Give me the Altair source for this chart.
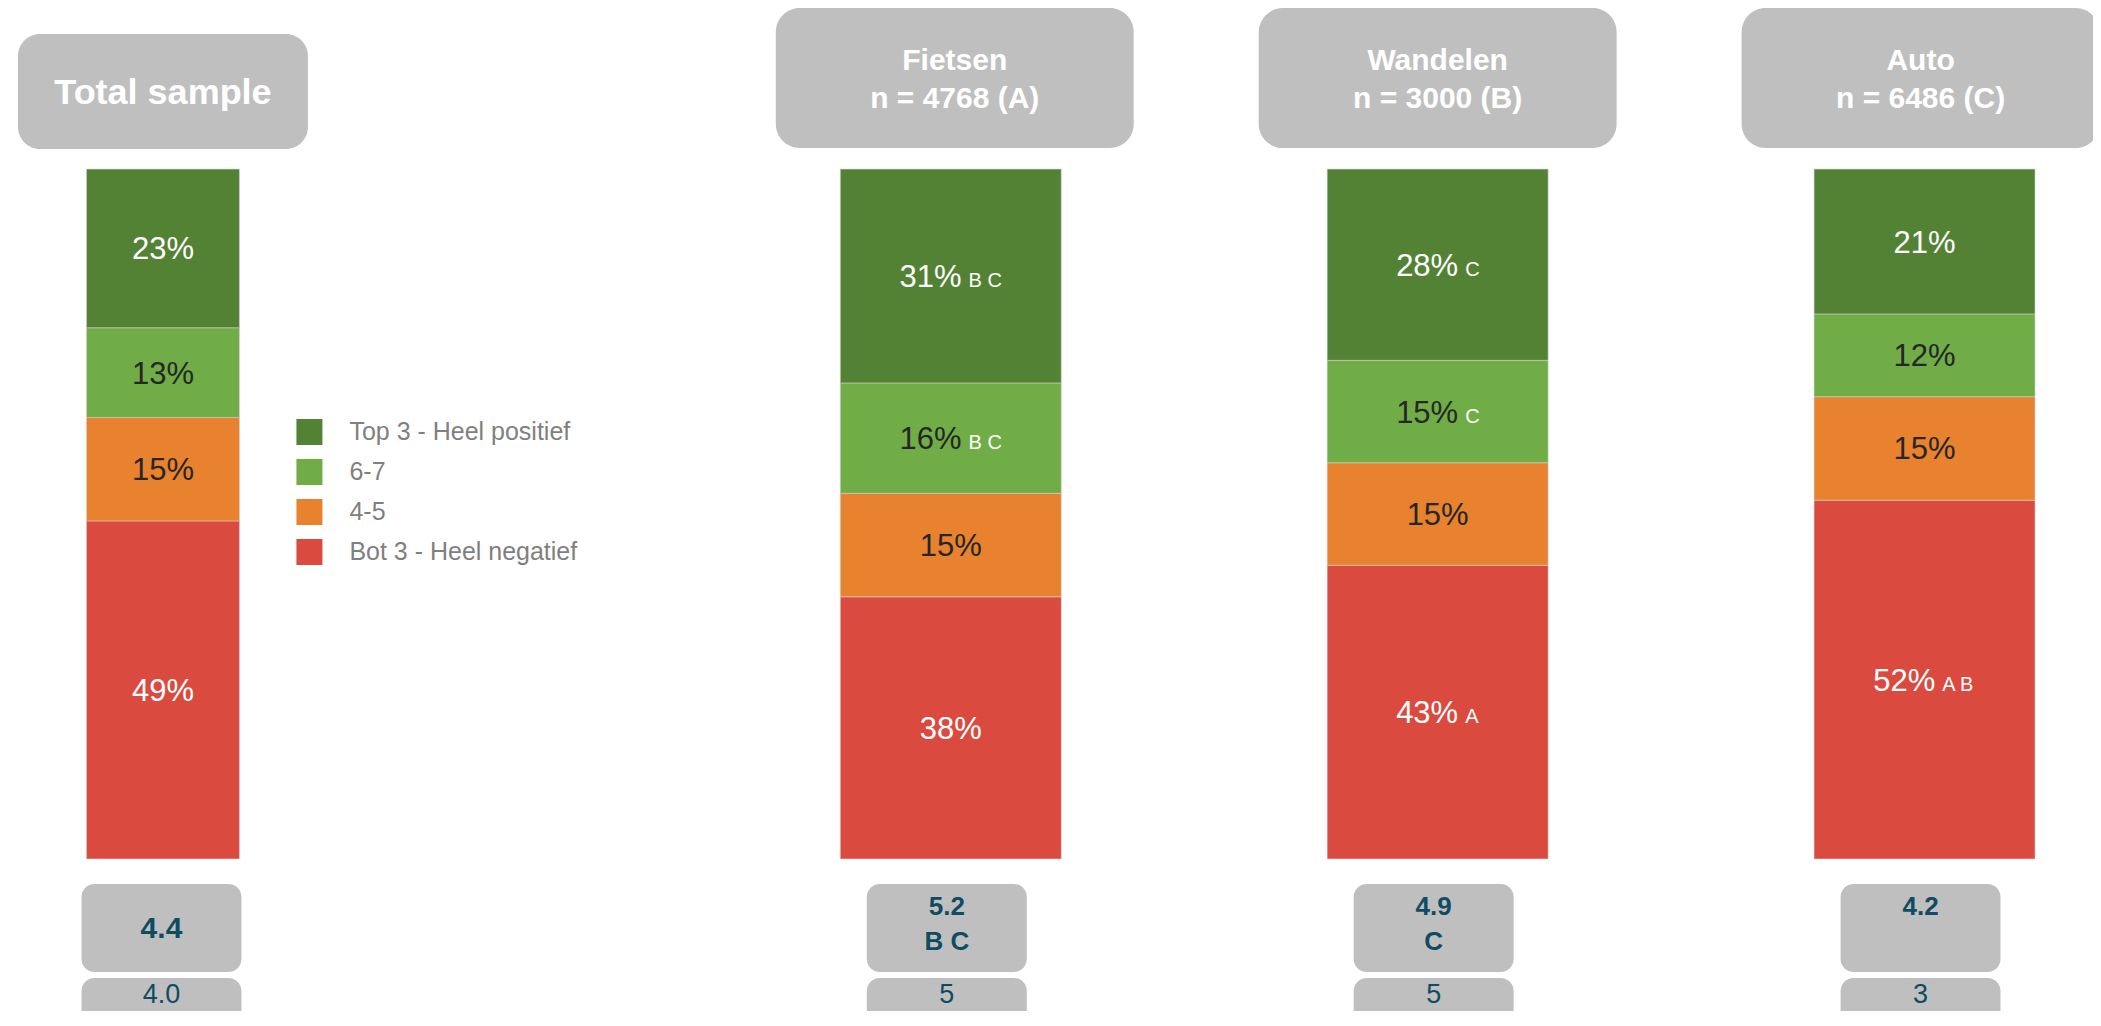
import altair as alt
import pandas as pd

# ---------------- data ----------------
categories = ["Top 3 - Heel positief", "6-7", "4-5", "Bot 3 - Heel negatief"]

total_label = "Total sample"
total_pct = [23, 13, 15, 49]
total_sig = ["", "", "", ""]
total_mean = "4.4"
total_second = "4.0"

groups = ["Fietsen", "Wandelen", "Auto"]
group_n = ["n = 4768 (A)", "n = 3000 (B)", "n = 6486 (C)"]
fietsen_pct = [31, 16, 15, 38]
fietsen_sig = ["B C", "B C", "", ""]
wandelen_pct = [28, 15, 15, 43]
wandelen_sig = ["C", "C", "", "A"]
auto_pct = [21, 12, 15, 52]
auto_sig = ["", "", "", "A B"]
group_mean = ["5.2", "4.9", "4.2"]
group_mean_sig = ["B C", "C", ""]
group_second = ["5", "5", "3"]

# ---------------- style ----------------
FONT = "Liberation Sans"
COLORS = ["#548235", "#70AD47", "#E8822E", "#DB4A3F"]
BOX = "#BFBFBF"
TEAL = "#0F4C63"
DARK = "#262626"
PCT_SIZE = 31
PCT_W = 62  # approx. rendered width of a two-digit percentage label
SIG_SIZE = 20


def seg_rows(group, pcts, sigs):
    tot = float(sum(pcts))
    rows, cum = [], 0.0
    for cat, p, s in reversed(list(zip(categories, pcts, sigs))):
        start = cum / tot * 100
        cum += p
        end = cum / tot * 100
        rows.append(dict(group=group, cat=cat, label=f"{p}%", sig=s,
                         start=start, end=end, mid=(start + end) / 2))
    return rows


left_seg = pd.DataFrame(seg_rows(total_label, total_pct, total_sig))
right_seg = pd.DataFrame(
    seg_rows(groups[0], fietsen_pct, fietsen_sig)
    + seg_rows(groups[1], wandelen_pct, wandelen_sig)
    + seg_rows(groups[2], auto_pct, auto_sig)
)
left_grp = pd.DataFrame(dict(group=[total_label], n=[""], mean=[total_mean],
                             sig=[""], second=[total_second]))
right_grp = pd.DataFrame(dict(group=groups, n=group_n, mean=group_mean,
                              sig=group_mean_sig, second=group_second))

yscale = alt.Scale(domain=[0, 100], nice=False, zero=True)
color_scale = alt.Scale(domain=categories, range=COLORS)
legend = alt.Legend(orient="none", legendX=210, legendY=250, title=None,
                    symbolType="square", symbolSize=676, symbolStrokeWidth=0,
                    labelFontSize=25, labelColor="#7F7F7F", labelFont=FONT,
                    labelOffset=27, rowPadding=14, padding=0, labelLimit=600)


def xenc(domain, pinner):
    return alt.X("group:N", scale=alt.Scale(type="band", domain=domain,
                                            paddingInner=pinner, paddingOuter=0),
                 axis=None, title=None)


def segment_layers(seg_df, domain, pinner, half_band):
    x = xenc(domain, pinner)
    y_mid = alt.Y("mid:Q", scale=yscale, axis=None)
    base = alt.Chart(seg_df)
    bars = base.mark_bar(stroke="#D0D0D0", strokeWidth=0.6).encode(
        x=x,
        y=alt.Y("start:Q", scale=yscale, axis=None),
        y2="end:Q",
        color=alt.Color("cat:N", scale=color_scale, legend=legend),
    )
    calc = base.transform_calculate(
        lw="length(datum.sig) > 0 ? 14 + (length(datum.sig) - 1) * 9.7 : 0",
        gap="length(datum.sig) > 0 ? 7 : 0",
    ).transform_calculate(
        off=f"{half_band} + ({PCT_W} - datum.gap - datum.lw) / 2",
        off2=f"{half_band} + ({PCT_W} - datum.gap - datum.lw) / 2 + datum.gap",
    )
    pct_white = calc.transform_filter(
        alt.FieldOneOfPredicate(field="cat", oneOf=[categories[0], categories[3]])
    ).mark_text(align="right", baseline="alphabetic", dy=11, fontSize=PCT_SIZE,
                font=FONT, color="white").encode(
        x=x, xOffset=alt.XOffset("off:Q", scale=None), y=y_mid, text="label:N")
    pct_dark = calc.transform_filter(
        alt.FieldOneOfPredicate(field="cat", oneOf=[categories[1], categories[2]])
    ).mark_text(align="right", baseline="alphabetic", dy=11, fontSize=PCT_SIZE,
                font=FONT, color=DARK).encode(
        x=x, xOffset=alt.XOffset("off:Q", scale=None), y=y_mid, text="label:N")
    sig = calc.transform_filter("datum.sig != ''").mark_text(
        align="left", baseline="alphabetic", dy=11, fontSize=SIG_SIZE, font=FONT,
        color="white").encode(
        x=x, xOffset=alt.XOffset("off2:Q", scale=None), y=y_mid, text="sig:N")
    return [bars, pct_white, pct_dark, sig]


def bottom_layers(grp_df, domain, pinner, dx, mean_size, mean_y, sig_y):
    x = xenc(domain, pinner)
    base = alt.Chart(grp_df)
    box1 = base.mark_bar(width=160, xOffset=dx, cornerRadius=13, color=BOX).encode(
        x=x, y=alt.value(715), y2=alt.value(803))
    box2 = base.mark_bar(width=160, xOffset=dx, cornerRadiusTopLeft=13,
                         cornerRadiusTopRight=13, color=BOX).encode(
        x=x, y=alt.value(809), y2=alt.value(870))
    mean = base.mark_text(fontSize=mean_size, fontWeight="bold", font=FONT,
                          color=TEAL, baseline="middle", dx=dx).encode(
        x=x, y=alt.value(mean_y), text="mean:N")
    sig = base.mark_text(fontSize=26, fontWeight="bold", font=FONT, color=TEAL,
                         baseline="middle", dx=dx).encode(
        x=x, y=alt.value(sig_y), text="sig:N")
    second = base.mark_text(fontSize=27, font=FONT, color=TEAL,
                            baseline="middle", dx=dx).encode(
        x=x, y=alt.value(826), text="second:N")
    return [box1, box2, mean, sig, second]


# ---------------- left panel: total sample ----------------
ldom = [total_label]
lx = xenc(ldom, 0)
l_head = alt.Chart(left_grp).mark_bar(width=290, cornerRadius=22, color=BOX).encode(
    x=lx, y=alt.value(-135), y2=alt.value(-20))
l_head_txt = alt.Chart(left_grp).mark_text(
    fontSize=36, fontWeight="bold", font=FONT, color="white", baseline="middle").encode(
    x=lx, y=alt.value(-76), text="group:N")

left = alt.layer(
    l_head, l_head_txt,
    *segment_layers(left_seg, ldom, 0, 76.5),
    *bottom_layers(left_grp, ldom, 0, -1.5, 30, 760, 790),
).properties(width=153, height=690)

# ---------------- right panel: groups ----------------
P_BAR = 0.5462
P_HEAD = 0.526
hx = xenc(groups, P_HEAD)
r_head = alt.Chart(right_grp).mark_bar(width=358, cornerRadius=24, color=BOX).encode(
    x=hx, y=alt.value(-161), y2=alt.value(-21))
r_head1 = alt.Chart(right_grp).mark_text(
    fontSize=30, fontWeight="bold", font=FONT, color="white", baseline="middle").encode(
    x=hx, y=alt.value(-108), text="group:N")
r_head2 = alt.Chart(right_grp).mark_text(
    fontSize=30, fontWeight="bold", font=FONT, color="white", baseline="middle").encode(
    x=hx, y=alt.value(-70), text="n:N")

right = alt.layer(
    r_head, r_head1, r_head2,
    *segment_layers(right_seg, groups, P_BAR, 110.5),
    *bottom_layers(right_grp, groups, P_BAR, -4, 26, 738.5, 773.5),
).resolve_scale(x="independent").properties(width=1195, height=690)

chart = alt.hconcat(left, right, spacing=601, bounds="flush").properties(
    padding={"left": 9.5, "top": 0, "right": -7, "bottom": -28},
    background="white",
).configure_view(stroke=None)

chart.save("out.html", embed_options={"renderer": "svg", "actions": False})
